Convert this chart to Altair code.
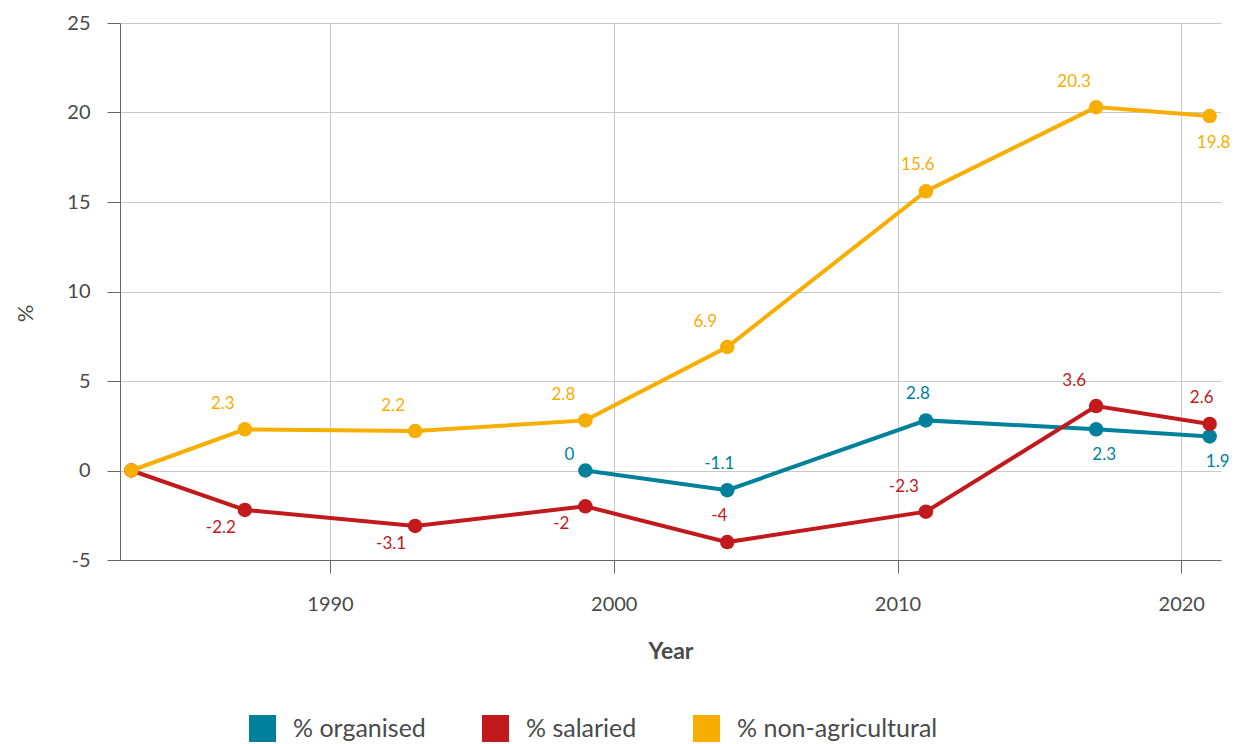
import altair as alt
import pandas as pd

years_all = [1983, 1987, 1993, 1999, 2004, 2011, 2017, 2021]
years_org = [1999, 2004, 2011, 2017, 2021]
organised = [0, -1.1, 2.8, 2.3, 1.9]
salaried = [0, -2.2, -3.1, -2, -4, -2.3, 3.6, 2.6]
non_agri = [0, 2.3, 2.2, 2.8, 6.9, 15.6, 20.3, 19.8]
series_names = ["% organised", "% salaried", "% non-agricultural"]
series_colors = ["#00809b", "#c1191c", "#f7ae00"]
x_ticks = [1990, 2000, 2010, 2020]
y_ticks = [-5, 0, 5, 10, 15, 20, 25]

# label placement styles per point
place_org = ["l", "u", "u", "dr", "dr"]
place_sal = ["none", "dl", "dl", "dl", "u", "ul", "ul", "u"]
place_non = ["none", "ul", "ul", "ul", "ul", "u", "ul", "dr2"]
offsets = {"ul": (-22, -25), "u": (-8, -26), "dl": (-24, 18), "dr": (8, 26), "dr2": (4, 27), "l": (-16, -16)}

FONT = "Lato"
TXT = "#4a4a4a"

rows = []
for name, yrs, vals, pl in [
    (series_names[0], years_org, organised, place_org),
    (series_names[1], years_all, salaried, place_sal),
    (series_names[2], years_all, non_agri, place_non),
]:
    for y, v, p in zip(yrs, vals, pl):
        rows.append({"year": y, "value": v, "series": name, "place": p, "label": f"{v:g}"})
df = pd.DataFrame(rows)

xenc = alt.X(
    "year:Q",
    scale=alt.Scale(domain=[1982.6, 2021.4], nice=False, zero=False),
    axis=alt.Axis(
        values=x_ticks, format="d", title="Year", grid=True, gridColor="#c8c8c8",
        domainColor="#666666", tickColor="#666666", tickSize=13,
        labelFont=FONT, labelFontSize=20, labelColor=TXT, labelPadding=21,
        titleFont=FONT, titleFontSize=23, titleFontWeight="bold", titleColor=TXT, titlePadding=26,
    ),
)
yenc = alt.Y(
    "value:Q",
    scale=alt.Scale(domain=[-5, 25], nice=False, zero=False),
    axis=alt.Axis(
        values=y_ticks, title="%", grid=True, gridColor="#c8c8c8", labelExpr="'' + datum.value",
        domainColor="#666666", tickColor="#666666", tickSize=13,
        labelFont=FONT, labelFontSize=20, labelColor=TXT, labelPadding=17,
        titleFont=FONT, titleFontSize=22, titleFontWeight="normal", titleColor=TXT,
        titleX=-95, titleY=290, titleAngle=270, titleAlign="center", titleBaseline="middle",
    ),
)

legend = alt.Legend(
    title=None, orient="none", legendX=129, legendY=692, direction="horizontal",
    symbolType="square", symbolSize=729, symbolStrokeWidth=0, symbolOpacity=1,
    labelFont=FONT, labelFontSize=25, labelColor=TXT, labelOffset=17, labelLimit=0,
    columnPadding=56, padding=0,
)

layers = []
for name, col in zip(series_names, series_colors):
    sub = alt.Chart(df).transform_filter(alt.datum.series == name)
    layers.append(sub.mark_line(strokeWidth=4).encode(x=xenc, y=yenc, color=alt.value(col)))
    layers.append(
        sub.mark_circle(size=210, opacity=1).encode(
            x=xenc, y=yenc,
            color=alt.Color("series:N", scale=alt.Scale(domain=series_names, range=series_colors), legend=legend),
        )
    )
for name, col in zip(series_names, series_colors):
    for key, (dx, dy) in offsets.items():
        layers.append(
            alt.Chart(df)
            .transform_filter((alt.datum.series == name) & (alt.datum.place == key))
            .mark_text(dx=dx, dy=dy, font=FONT, fontSize=17, baseline="middle", align="center", color=col)
            .encode(x=xenc, y=yenc, text="label:N")
        )

chart = (
    alt.layer(*layers)
    .properties(
        width=1101, height=537,
        autosize=alt.AutoSizeParams(type="none"),
        padding={"left": 112, "top": 15, "right": 10, "bottom": 184},
    )
    .configure_view(stroke=None)
)

chart.save("out.html", embed_options={"renderer": "svg", "actions": False})
